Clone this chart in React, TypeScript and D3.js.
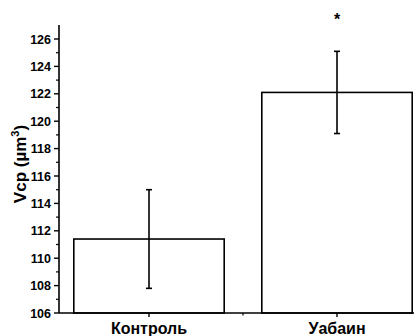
import React from 'react';
import * as d3 from 'd3';

const categories = ['Контроль', 'Уабаин'];
const means = [111.4, 122.1];
const errors = [3.6, 3.0];
const marks = ['', '*'];
const yTicks = [106, 108, 110, 112, 114, 116, 118, 120, 122, 124, 126];
const yMinor = [107, 109, 111, 113, 115, 117, 119, 121, 123, 125];

const W = 414;
const H = 336;
const axisX = 59;
const axisY = 313;
const font = '"Liberation Sans", Arial, sans-serif';

export default function App() {
  const y = d3.scaleLinear().domain([106, 126]).range([axisY, 39]);
  const x = d3.scaleBand<string>()
    .domain(categories)
    .range([55, 431])
    .paddingInner(0.2)
    .paddingOuter(0.1);
  const bw = x.bandwidth();
  const centers = categories.map((c) => (x(c) ?? 0) + bw / 2);
  const midTick = (centers[0] + centers[1]) / 2;

  return (
    <svg width={W} height={H} style={{ position: 'absolute', left: 0, top: 0, background: '#fff' }} fontFamily={font}>
      {/* bars */}
      {categories.map((c, i) => (
        <rect key={c} x={x(c)} y={y(means[i])} width={bw} height={axisY - y(means[i])}
          fill="#fff" stroke="#000" strokeWidth={1.6} />
      ))}
      {/* error bars */}
      {categories.map((c, i) => {
        const cx = centers[i];
        const top = y(means[i] + errors[i]);
        const bot = y(means[i] - errors[i]);
        return (
          <g key={c + 'err'} stroke="#000" strokeWidth={1.6}>
            <line x1={cx} x2={cx} y1={top} y2={bot} />
            <line x1={cx - 3} x2={cx + 3} y1={top} y2={top} />
            <line x1={cx - 3} x2={cx + 3} y1={bot} y2={bot} />
          </g>
        );
      })}
      {/* significance marks */}
      {categories.map((c, i) => marks[i] ? (
        <text key={c + 'mark'} x={centers[i]} y={25} textAnchor="middle" fontSize={16} fontWeight="bold">{marks[i]}</text>
      ) : null)}
      {/* y axis */}
      <line x1={axisX} x2={axisX} y1={25} y2={axisY} stroke="#000" strokeWidth={1.6} />
      {yTicks.map((t) => (
        <g key={t}>
          <line x1={axisX - 5} x2={axisX} y1={y(t)} y2={y(t)} stroke="#000" strokeWidth={1.4} />
          <text x={axisX - 8} y={y(t)} dy="0.36em" textAnchor="end" fontSize={12.5} fontWeight="bold">{t}</text>
        </g>
      ))}
      {yMinor.map((t) => (
        <line key={t} x1={axisX - 3} x2={axisX} y1={y(t)} y2={y(t)} stroke="#000" strokeWidth={1.2} />
      ))}
      <text transform="translate(26,164) rotate(-90)" textAnchor="middle" fontSize={17} fontWeight="bold">
        Vcp (µm<tspan dy="-7" fontSize={11}>3</tspan><tspan dy="7">)</tspan>
      </text>
      {/* x axis */}
      <line x1={axisX} x2={W} y1={axisY} y2={axisY} stroke="#000" strokeWidth={1.6} />
      {centers.map((cx, i) => (
        <g key={categories[i] + 'x'}>
          <line x1={cx} x2={cx} y1={axisY} y2={axisY + 4} stroke="#000" strokeWidth={1.4} />
          <text x={cx} y={334} textAnchor="middle" fontSize={16} fontWeight="bold">{categories[i]}</text>
        </g>
      ))}
      <line x1={midTick} x2={midTick} y1={axisY} y2={axisY + 2.5} stroke="#000" strokeWidth={1.2} />
    </svg>
  );
}
